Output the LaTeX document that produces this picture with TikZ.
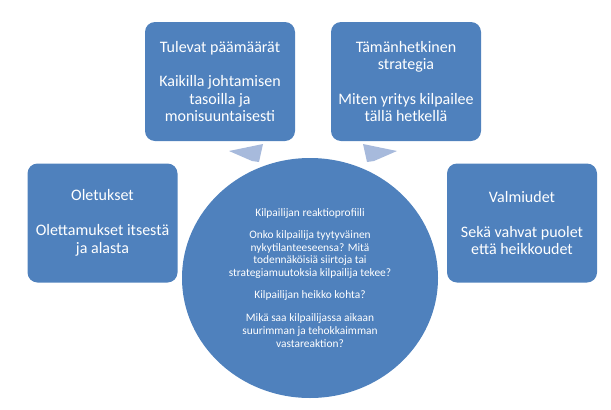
\documentclass[tikz,border=0pt]{standalone}
\usepackage{fontspec}
\setmainfont{Carlito}
\usepackage{xcolor}
\usetikzlibrary{shapes.geometric,positioning}
\definecolor{boxblue}{HTML}{4F81BD}
\definecolor{arrowblue}{HTML}{A7BADC}

\begin{document}
\begin{tikzpicture}[x=1pt,y=-1pt,
    box/.style={rectangle,rounded corners=10pt,fill=boxblue,text=white,
      minimum width=150pt,minimum height=119pt,align=center,inner sep=0pt,
      font=\fontsize{16}{17.5}\selectfont},
    hub/.style={ellipse,fill=boxblue,text=white,minimum width=256pt,
      minimum height=240pt,align=center,inner sep=0pt,
      font=\fontsize{11.4}{12.7}\selectfont},
    pointer/.style={fill=arrowblue}]
    \useasboundingbox (0,0) rectangle (611,410);
    % arrows between the top boxes and the circle
    \fill[pointer] (229,151) -- (263,144) -- (259,162) -- (252,161) -- cycle;
    \fill[pointer] (397,151) -- (363,144) -- (367,162) -- (374,161) -- cycle;
    \node[box] (goals) at (220,81.5) {Tulevat päämäärät\\[17.5pt]Kaikilla johtamisen\\tasoilla ja\\monisuuntaisesti};
    \node[box] (strategy) at (406,81.5) {Tämänhetkinen\\strategia\\[17.5pt]Miten yritys kilpailee\\tällä hetkellä};
    \node[box] (assumptions) at (102.5,223) {Oletukset\\[17.5pt]Olettamukset itsestä\\ja alasta};
    \node[box] (abilities) at (522,223) {Valmiudet\\[17.5pt]Sekä vahvat puolet\\että heikkoudet};
    \node[hub] (profile) at (310,278) {Kilpailijan reaktioprofiili\\[9pt]Onko kilpailija tyytyväinen\\nykytilanteeseensa? Mitä\\todennäköisiä siirtoja tai\\strategiamuutoksia kilpailija tekee?\\[9pt]Kilpailijan heikko kohta?\\[11pt]Mikä saa kilpailijassa aikaan\\suurimman ja tehokkaimman\\vastareaktion?};
\end{tikzpicture}
\end{document}
